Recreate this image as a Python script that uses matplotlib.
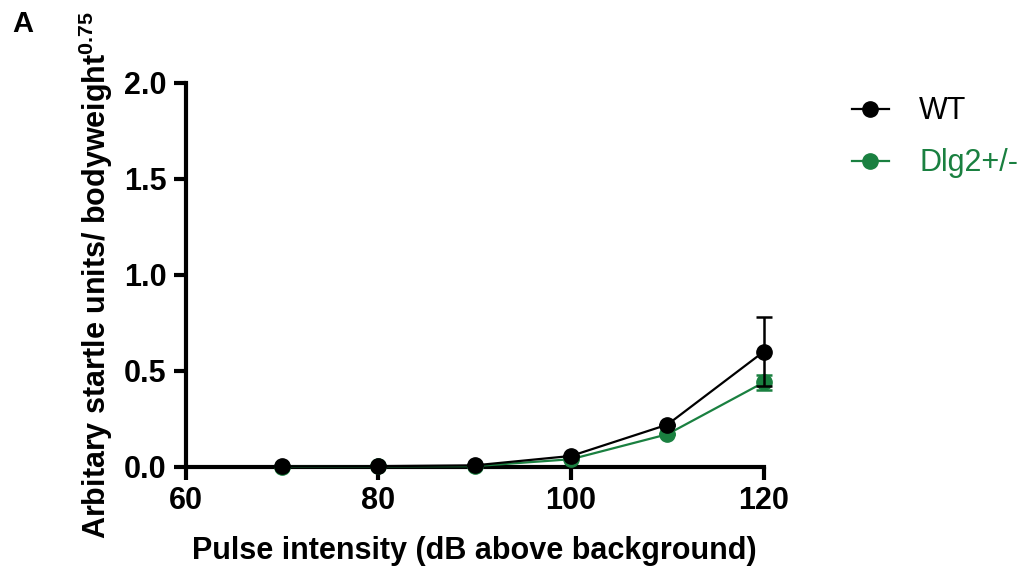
import matplotlib
matplotlib.use("Agg")
import matplotlib.pyplot as plt
from matplotlib.lines import Line2D

intensity = [70, 80, 90, 100, 110, 120]
wt_mean = [0.003, 0.004, 0.008, 0.057, 0.22, 0.60]
wt_sem = [0.0, 0.0, 0.0, 0.0, 0.0, 0.18]
dlg_mean = [0.002, 0.003, 0.004, 0.04, 0.17, 0.44]
dlg_sem = [0.0, 0.0, 0.0, 0.0, 0.0, 0.04]
series_names = ["WT", "Dlg2+/-"]
x_ticks = [60, 80, 100, 120]
y_ticks = [0.0, 0.5, 1.0, 1.5, 2.0]

plt.rcParams['font.family'] = ['Liberation Sans', 'DejaVu Sans']
plt.rcParams['mathtext.fontset'] = 'custom'
plt.rcParams['mathtext.bf'] = 'Liberation Sans:bold'
plt.rcParams['mathtext.rm'] = 'Liberation Sans:bold'

green = '#1a8040'
colors = ['black', green]
fig = plt.figure(figsize=(10.21, 5.75), dpi=100)
ax = fig.add_axes([0.182, 0.188, 0.566, 0.668])

for i, (m, s) in enumerate([(wt_mean, wt_sem), (dlg_mean, dlg_sem)]):
    z = 4 - i
    ax.errorbar(intensity, m, yerr=s, color=colors[i], fmt='none', capsize=6,
                capthick=1.8, elinewidth=1.8, zorder=z - 0.5, clip_on=False)
    ax.plot(intensity, m, color=colors[i], marker='o', ms=11, lw=1.6,
            zorder=z, clip_on=False)

ax.set_xlim(60, 120)
ax.set_ylim(0, 2.0)
ax.set_xticks(x_ticks)
ax.set_yticks(y_ticks)
ax.set_yticklabels([f"{v:.1f}" for v in y_ticks])
for s in ['top', 'right']:
    ax.spines[s].set_visible(False)
for s in ['left', 'bottom']:
    ax.spines[s].set_linewidth(3)
ax.tick_params(width=3, length=9, labelsize=22, pad=5)
for lab in ax.get_xticklabels() + ax.get_yticklabels():
    lab.set_fontweight('bold')

ax.set_xlabel("Pulse intensity (dB above background)", fontsize=22, fontweight='bold', labelpad=14)
ax.set_ylabel(r"Arbitary startle units/ bodyweight$^{\mathbf{0.75}}$", fontsize=22,
              fontweight='bold', labelpad=6)

handles = [Line2D([], [], color=c, marker='o', ms=11, lw=1.6) for c in colors]
leg = ax.legend(handles, series_names, loc='upper left', bbox_to_anchor=(1.105, 1.036),
                frameon=False, fontsize=22, handlelength=1.2, handletextpad=1.0,
                labelspacing=0.72)
for t, c in zip(leg.get_texts(), colors):
    t.set_color(c)

fig.text(0.012, 0.945, "A", fontsize=21, fontweight='bold')

fig.savefig("out.png", dpi=100)
